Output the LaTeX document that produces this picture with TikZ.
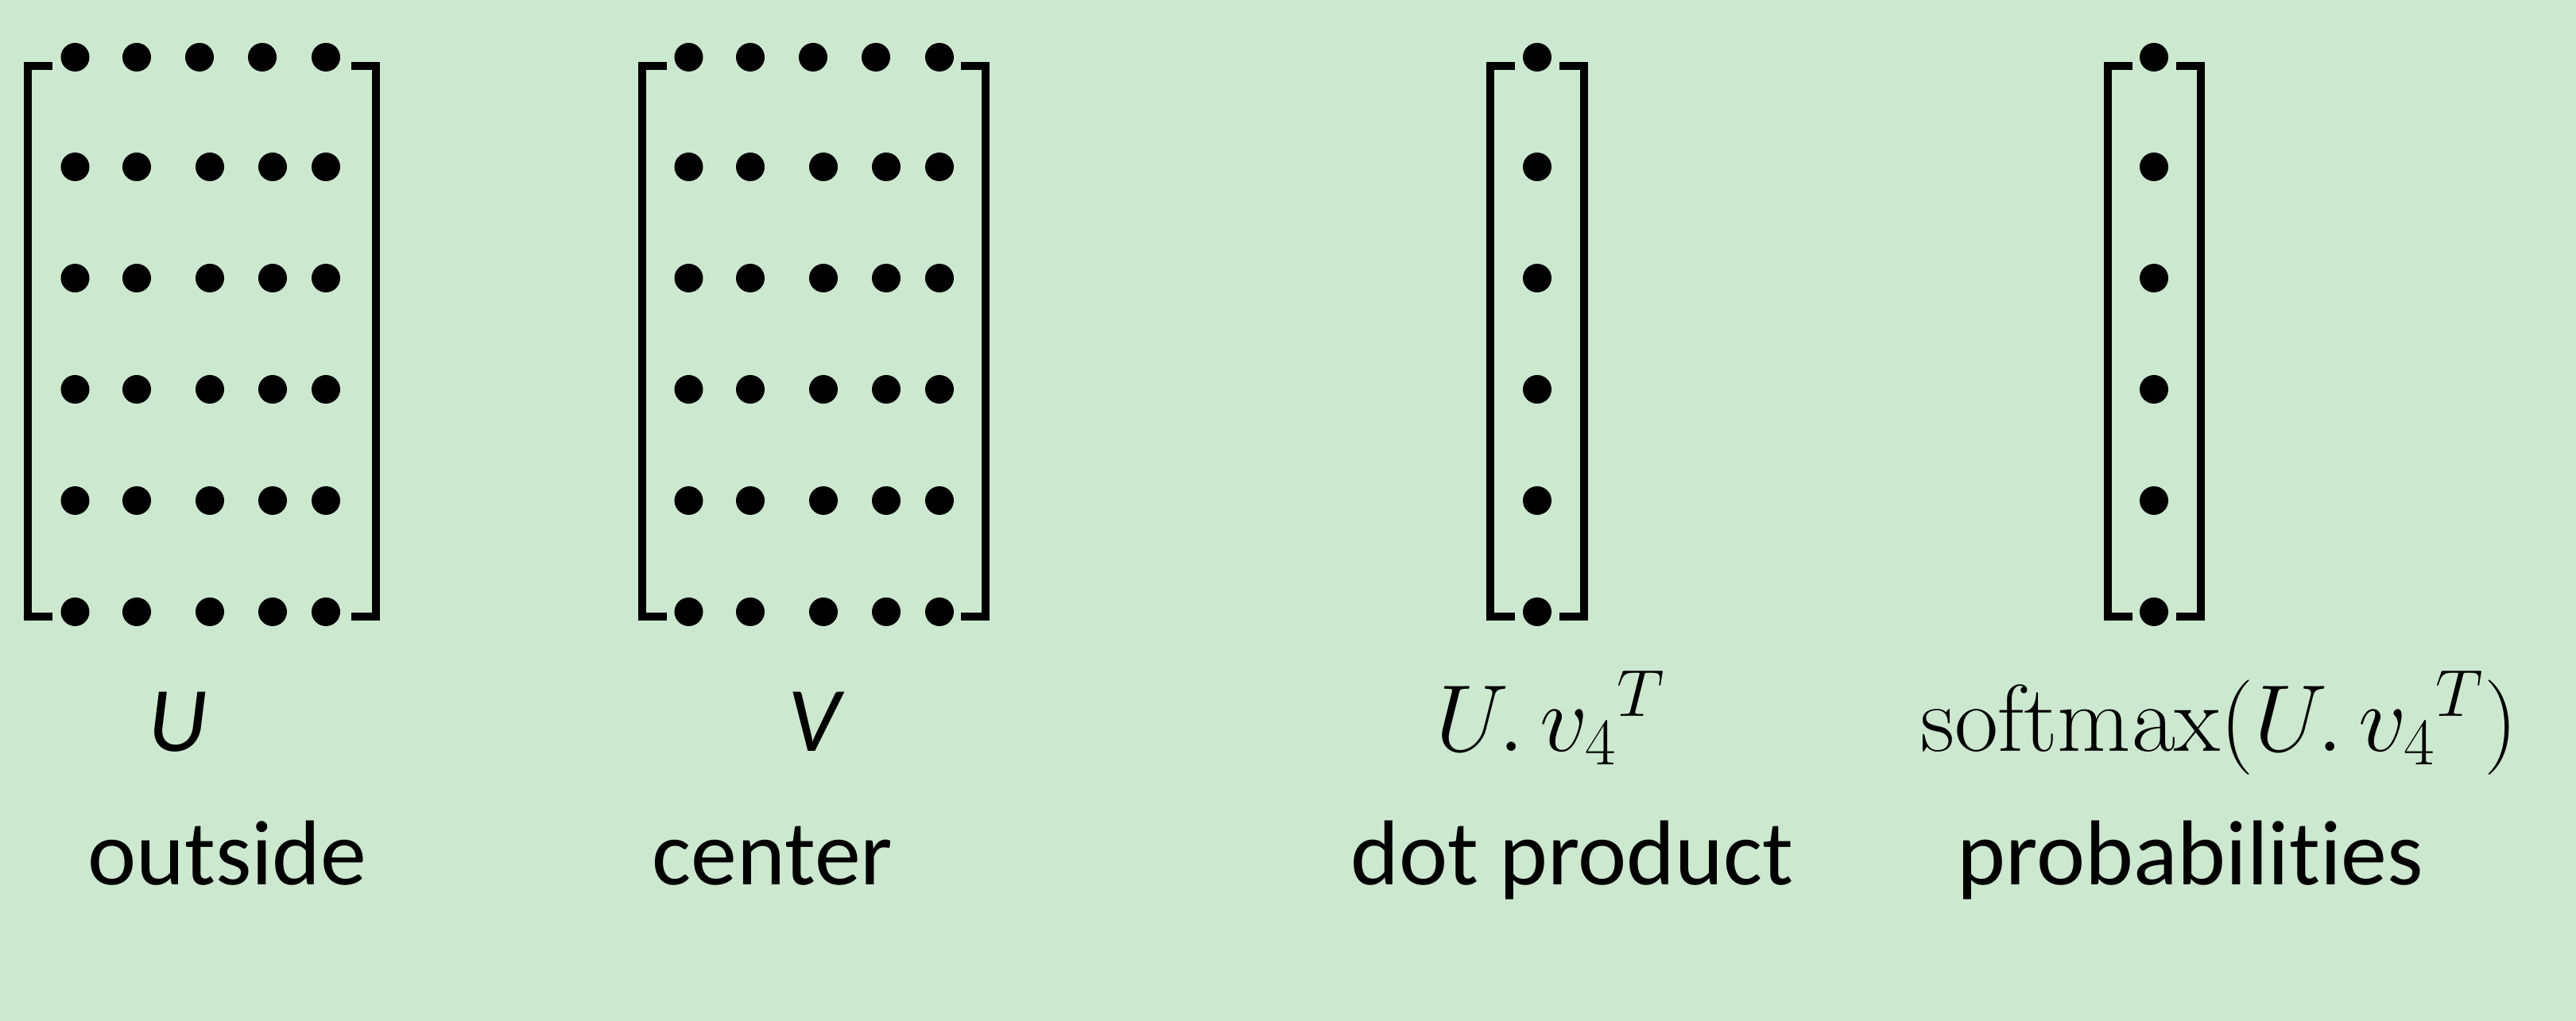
\RequirePackage{fix-cm}
\documentclass[tikz,border=0pt]{standalone}
\usepackage[no-math]{fontspec}
\setmainfont{Carlito}[Ligatures=NoCommon]
\usetikzlibrary{positioning}
\definecolor{bggreen}{RGB}{204,232,207}
\tikzset{
    dotcell/.style = {circle, fill=black, inner sep=0pt, minimum size=0.36cm},
    brack/.style = {line width=0.1cm, draw=black},
    lab/.style = {anchor=base, inner sep=0pt, font=\fontsize{33}{40}\selectfont},
    mathlab/.style = {anchor=base, inner sep=0pt, font=\fontsize{34}{40}\selectfont},
}

\begin{document}
\begin{tikzpicture}
  \fill[bggreen] (0,0) rectangle (32.41,-12.85);
  \useasboundingbox (0,0) rectangle (32.41,-12.85);
  % brackets
  \foreach \xl/\xr in {0.35/4.73, 8.08/12.40, 18.75/19.93, 26.52/27.69} {
    \draw[brack] (\xl+0.31,-0.83) -- (\xl,-0.83) -- (\xl,-7.76) -- (\xl+0.31,-7.76);
    \draw[brack] (\xr-0.31,-0.83) -- (\xr,-0.83) -- (\xr,-7.76) -- (\xr-0.31,-7.76);
  }
  % matrices U and V
  \foreach \m/\xo in {u/0, v/7.72} {
    \foreach \c/\xa/\xb in {1/0.945/0.945, 2/1.72/1.72, 3/2.51/2.64, 4/3.30/3.43, 5/4.10/4.10} {
      \node[dotcell] (\m-1-\c) at (\xo+\xa,-0.72) {};
      \foreach \r/\y in {2/-2.10, 3/-3.50, 4/-4.90, 5/-6.30, 6/-7.70}
        \node[dotcell] (\m-\r-\c) at (\xo+\xb,\y) {};
    }
  }
  % vectors
  \foreach \m/\x in {d/19.34, p/27.10}
    \foreach \r/\y in {1/-0.72, 2/-2.10, 3/-3.50, 4/-4.90, 5/-6.30, 6/-7.70}
      \node[dotcell] (\m-\r) at (\x,\y) {};
  % labels
  \node[lab] (labU) at (2.24,-9.45) {\itshape U};
  \node[lab] (labV) at (10.24,-9.45) {\itshape V};
  \node[mathlab] (labdot) at (19.51,-9.45) {$U.\,{v_4}^{T}$};
  \node[mathlab] (labsoft) at (27.92,-9.45) {$\mathrm{softmax}(U.\,{v_4}^{T})$};
  \node[lab] (outside) at (2.86,-11.13) {outside};
  \node[lab] (center) at (9.72,-11.13) {center};
  \node[lab] (dotproduct) at (19.78,-11.13) {dot product};
  \node[lab] (probs) at (27.56,-11.13) {probabilities};
\end{tikzpicture}
\end{document}
